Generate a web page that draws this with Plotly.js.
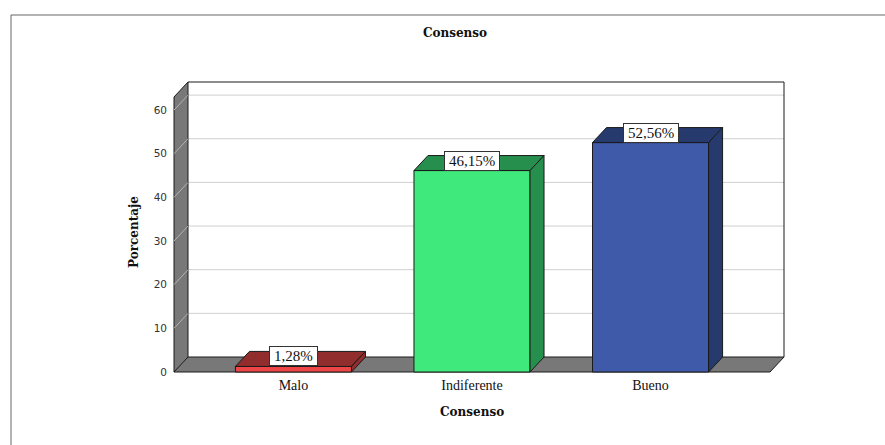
<!DOCTYPE html>
<html>
<head>
<meta charset="utf-8">
<script src="https://cdn.plot.ly/plotly-3.0.1.min.js"></script>
<style>html,body{margin:0;padding:0;background:#fff;}#chart{width:885px;height:445px;}</style>
</head>
<body>
<div id="chart"></div>
<script>
// ---- data ----
var categories = ["Malo", "Indiferente", "Bueno"];
var values = [1.28, 46.15, 52.56];
var yTickValues = [0, 10, 20, 30, 40, 50, 60];
var chartTitle = "Consenso";
var xTitle = "Consenso";
var yTitle = "Porcentaje";

// ---- styling ----
var faceColors = ["#ee4646", "#40e97c", "#3f5aa9"];
var darkColors = ["#922d2d", "#268f4d", "#263a6e"];

// ---- geometry (pixels) ----
var W = 885, H = 445;
var FL = 174, FR = 770, FB = 372, FT = 97;   // front plane
var DX = 14, DY = 15;                         // depth offset
var PAD = 3;
var PL = FL - PAD, PR = FR + DX + PAD, PT = FT - DY - PAD, PB = FB + PAD;
var yMax = 63;
var xa = -0.669, xb = 2.669;
var barW = 0.65;
var kx = (FR - FL) / (xb - xa);
var ky = (FB - FT) / yMax;
var dx = DX / kx, dy = DY / ky;
var xRange = [xa - (FL - PL) / kx, xb + (PR - FR) / kx];
var yRange = [-(PB - FB) / ky, yMax + (FT - PT) / ky];

var xIdx = categories.map(function (c, i) { return i; });

var shapes = [];
var edge = {color: "#1a1a1a", width: 1};
function poly(pts) {
  return "M" + pts.map(function (p) { return p[0] + "," + p[1]; }).join(" L") + " Z";
}
// back wall
shapes.push({type: "path", xref: "x", yref: "y", layer: "below",
  path: poly([[xa + dx, dy], [xb + dx, dy], [xb + dx, yMax + dy], [xa + dx, yMax + dy]]),
  fillcolor: "#ffffff", line: {width: 0}});
// gridlines on back wall
yTickValues.forEach(function (t) {
  if (t > 0) {
    shapes.push({type: "line", xref: "x", yref: "y", layer: "below",
      x0: xa + dx, x1: xb + dx, y0: t + dy, y1: t + dy,
      line: {color: "#cfcfcf", width: 1}});
  }
});
// left wall
shapes.push({type: "path", xref: "x", yref: "y", layer: "below",
  path: poly([[xa, 0], [xa, yMax], [xa + dx, yMax + dy], [xa + dx, dy]]),
  fillcolor: "#787878", line: edge});
yTickValues.forEach(function (t) {
  shapes.push({type: "line", xref: "x", yref: "y", layer: "below",
    x0: xa, x1: xa + dx, y0: t, y1: t + dy,
    line: {color: "#b4b4b4", width: 1}});
});
// floor
shapes.push({type: "path", xref: "x", yref: "y", layer: "below",
  path: poly([[xa, 0], [xb, 0], [xb + dx, dy], [xa + dx, dy]]),
  fillcolor: "#787878", line: edge});
// back wall top & right border
shapes.push({type: "path", xref: "x", yref: "y", layer: "below",
  path: "M" + (xa + dx) + "," + (yMax + dy) + " L" + (xb + dx) + "," + (yMax + dy) + " L" + (xb + dx) + "," + dy,
  line: edge});

// bar top & side faces
values.forEach(function (v, i) {
  var l = i - barW / 2, r = i + barW / 2;
  shapes.push({type: "path", xref: "x", yref: "y", layer: "above",
    path: poly([[l, v], [r, v], [r + dx, v + dy], [l + dx, v + dy]]),
    fillcolor: darkColors[i], line: edge});
  shapes.push({type: "path", xref: "x", yref: "y", layer: "above",
    path: poly([[r, 0], [r, v], [r + dx, v + dy], [r + dx, dy]]),
    fillcolor: darkColors[i], line: edge});
});
// outer frame
shapes.push({type: "rect", xref: "paper", yref: "paper", layer: "below",
  x0: (11 - PL) / (PR - PL), x1: (W + 20 - PL) / (PR - PL),
  y0: -(H + 20 - PB) / (PB - PT), y1: (PB - 15) / (PB - PT),
  line: {color: "#666", width: 1}, fillcolor: "rgba(0,0,0,0)"});

var annotations = values.map(function (v, i) {
  return {x: i, y: v, xref: "x", yref: "y", xanchor: "center", yanchor: "bottom",
    text: "\u2009" + v.toFixed(2).replace(".", ",") + "%\u2009", showarrow: false,
    font: {family: "Liberation Serif", size: 15, color: "#111"},
    bgcolor: "#ffffff", bordercolor: "#333", borderwidth: 1, borderpad: 1};
});
// axis titles
annotations.push({xref: "paper", yref: "paper",
  x: (472 - PL) / (PR - PL), y: (PB - 412) / (PB - PT),
  text: "<b>" + xTitle + "</b>", showarrow: false, xanchor: "center", yanchor: "middle",
  font: {family: "DejaVu Serif", size: 12, color: "#111"}});
annotations.push({xref: "paper", yref: "paper",
  x: (134 - PL) / (PR - PL), y: (PB - 232) / (PB - PT),
  text: "<b>" + yTitle + "</b>", showarrow: false, textangle: -90, xanchor: "center", yanchor: "middle",
  font: {family: "DejaVu Serif", size: 12, color: "#111"}});

var trace = {
  type: "bar", x: xIdx, y: values, width: barW,
  marker: {color: faceColors, line: {color: "#1a1a1a", width: 1}},
  hoverinfo: "skip", showlegend: false
};

var layout = {
  width: W, height: H,
  margin: {l: PL, r: W - PR, t: PT, b: H - PB, pad: 0},
  paper_bgcolor: "#ffffff", plot_bgcolor: "rgba(0,0,0,0)",
  title: {text: "<b>" + chartTitle + "</b>", x: 455 / W, xanchor: "center", y: 1 - 33 / H, yanchor: "middle",
    font: {family: "DejaVu Serif", size: 12, color: "#111"}},
  xaxis: {range: xRange, tickmode: "array", tickvals: xIdx, ticktext: categories,
    showgrid: false, zeroline: false, showline: false, ticks: "",
    tickfont: {family: "Liberation Serif", size: 14, color: "#111"}, fixedrange: true},
  yaxis: {range: yRange, tickmode: "array", tickvals: yTickValues,
    showgrid: false, zeroline: false, showline: false, ticks: "", ticklabelstandoff: 3,
    tickfont: {family: "DejaVu Sans", size: 10.5, color: "#333"}, fixedrange: true},
  shapes: shapes,
  annotations: annotations,
  bargap: 0
};

Plotly.newPlot("chart", [trace], layout, {displayModeBar: false, staticPlot: true});
</script>
</body>
</html>
